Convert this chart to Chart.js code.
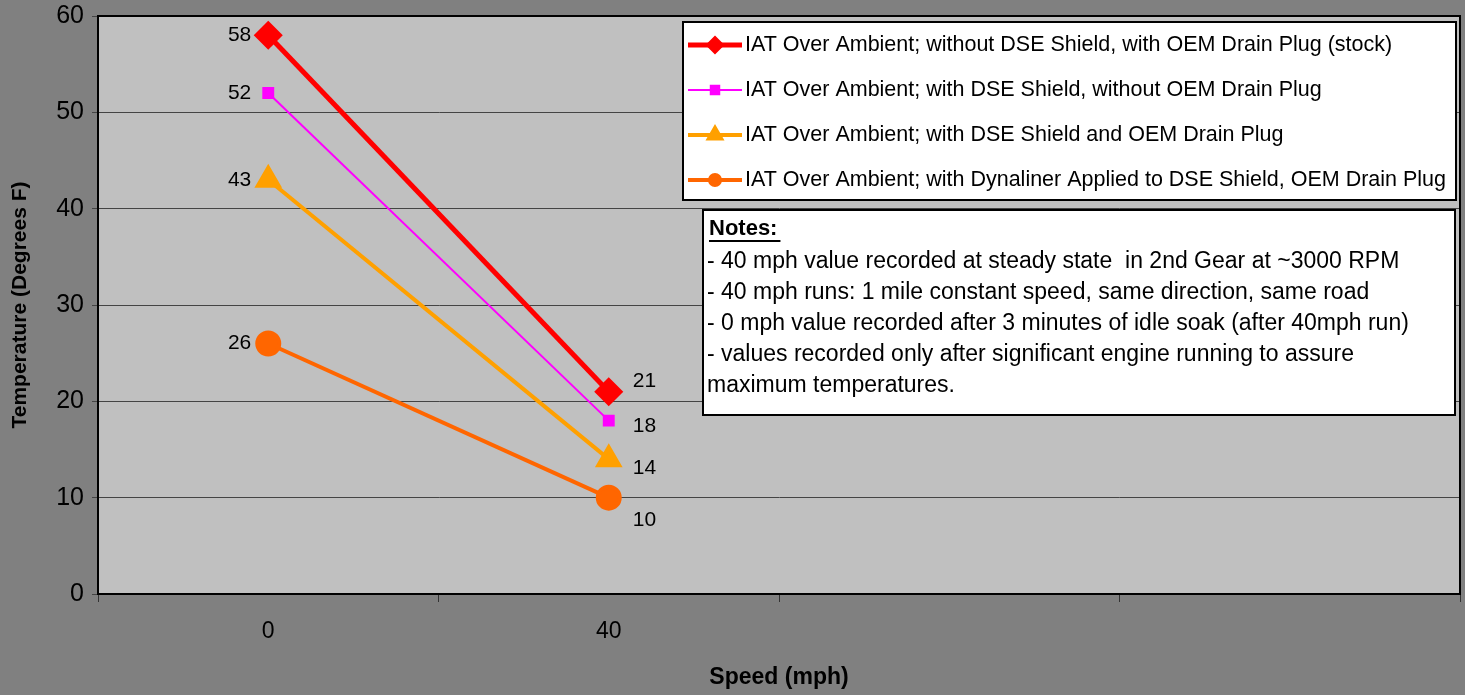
<!DOCTYPE html>
<html>
<head>
<meta charset="utf-8">
<script src="https://cdn.jsdelivr.net/npm/chart.js@4.4.0/dist/chart.umd.min.js"></script>
<style>
  html, body { margin: 0; padding: 0; background: #808080; }
  #wrap { width: 1465px; height: 695px; }
</style>
</head>
<body>
<div id="wrap"><canvas id="lineChart" width="1465" height="695"></canvas></div>
<script>
// data
var speeds = ['0', '40', '', ''];
var stockNoShield = [58, 21];
var shieldNoPlug = [52, 18];
var shieldWithPlug = [43, 14];
var dynaliner = [26, 10];
var seriesNames = [
  'IAT Over Ambient; without DSE Shield, with OEM Drain Plug (stock)',
  'IAT Over Ambient; with DSE Shield, without OEM Drain Plug',
  'IAT Over Ambient; with DSE Shield and OEM Drain Plug',
  'IAT Over Ambient; with Dynaliner Applied to DSE Shield, OEM Drain Plug'
];
var notesTitle = 'Notes:';
var notesLines = [
  '- 40 mph value recorded at steady state  in 2nd Gear at ~3000 RPM',
  '- 40 mph runs: 1 mile constant speed, same direction, same road',
  '- 0 mph value recorded after 3 minutes of idle soak (after 40mph run)',
  '- values recorded only after significant engine running to assure',
  'maximum temperatures.'
];
var yTicks = [0, 10, 20, 30, 40, 50, 60];

var FONT = '"Liberation Sans", Arial, sans-serif';

// label offsets for the 40 mph points (dy per series)
var rightLabelDy = [-10, 6, 9, 23];

var plotBg = {
  id: 'plotBg',
  beforeDraw: function(chart) {
    var a = chart.chartArea, ctx = chart.ctx;
    ctx.save();
    ctx.fillStyle = '#c0c0c0';
    ctx.fillRect(a.left, a.top, a.right - a.left, a.bottom - a.top);
    ctx.restore();
  },
  afterDatasetsDraw: function(chart) {
    var a = chart.chartArea, ctx = chart.ctx;
    ctx.save();
    ctx.strokeStyle = '#000';
    ctx.lineWidth = 2;
    ctx.strokeRect(a.left, a.top, a.right - a.left, a.bottom - a.top);
    ctx.restore();
  }
};

var pointLabels = {
  id: 'pointLabels',
  afterDatasetsDraw: function(chart) {
    var ctx = chart.ctx;
    ctx.save();
    ctx.font = '21px ' + FONT;
    ctx.fillStyle = '#000';
    ctx.textBaseline = 'middle';
    chart.data.datasets.forEach(function(ds, i) {
      var meta = chart.getDatasetMeta(i);
      meta.data.forEach(function(pt, j) {
        var v = ds.data[j];
        if (j === 0) {
          ctx.textAlign = 'right';
          ctx.fillText(v, pt.x - 17, pt.y);
        } else {
          ctx.textAlign = 'left';
          ctx.fillText(v, pt.x + 24, pt.y + rightLabelDy[i]);
        }
      });
    });
    ctx.restore();
  }
};

var boxes = {
  id: 'boxes',
  afterDraw: function(chart) {
    var ctx = chart.ctx;
    ctx.save();
    // legend box
    ctx.fillStyle = '#fff';
    ctx.fillRect(683, 22, 773, 178);
    ctx.strokeStyle = '#000';
    ctx.lineWidth = 2;
    ctx.strokeRect(683, 22, 773, 178);
    ctx.font = '21.5px ' + FONT;
    ctx.textBaseline = 'middle';
    ctx.textAlign = 'left';
    chart.data.datasets.forEach(function(ds, i) {
      var y = 45 + i * 45;
      ctx.strokeStyle = ds.borderColor;
      ctx.lineWidth = ds.borderWidth;
      ctx.beginPath();
      ctx.moveTo(688, y);
      ctx.lineTo(742, y);
      ctx.stroke();
      ctx.fillStyle = ds.backgroundColor;
      Chart.helpers.drawPoint(ctx, {
        pointStyle: ds.pointStyle, radius: ds.legendRadius, rotation: 0, borderWidth: 1
      }, 715, y);
      ctx.fillStyle = '#000';
      ctx.fillText(ds.label, 745, y);
    });
    // notes box
    ctx.fillStyle = '#fff';
    ctx.fillRect(703, 210, 752, 205);
    ctx.strokeStyle = '#000';
    ctx.lineWidth = 2;
    ctx.strokeRect(703, 210, 752, 205);
    ctx.fillStyle = '#000';
    ctx.font = 'bold 22px ' + FONT;
    ctx.fillText(notesTitle, 709, 229);
    var w = ctx.measureText(notesTitle).width;
    ctx.fillRect(709, 240, w + 3, 2);
    ctx.font = '23px ' + FONT;
    notesLines.forEach(function(t, k) {
      ctx.fillText(t, 707, 262 + k * 31);
    });
    ctx.restore();
  }
};

var ctxL = document.getElementById('lineChart').getContext('2d');
var myLineChart = new Chart(ctxL, {
  type: 'line',
  data: {
    labels: speeds,
    datasets: [{
      label: seriesNames[0],
      data: stockNoShield,
      borderColor: '#ff0000',
      backgroundColor: '#ff0000',
      borderWidth: 5,
      pointStyle: 'rectRot',
      pointRadius: 11,
      legendRadius: 6
    }, {
      label: seriesNames[1],
      data: shieldNoPlug,
      borderColor: '#ff00ff',
      backgroundColor: '#ff00ff',
      borderWidth: 2,
      pointStyle: 'rect',
      pointRadius: 7,
      legendRadius: 6
    }, {
      label: seriesNames[2],
      data: shieldWithPlug,
      borderColor: '#ffa000',
      backgroundColor: '#ffa000',
      borderWidth: 4,
      pointStyle: 'triangle',
      pointRadius: 12,
      legendRadius: 7
    }, {
      label: seriesNames[3],
      data: dynaliner,
      borderColor: '#ff6600',
      backgroundColor: '#ff6600',
      borderWidth: 4,
      pointStyle: 'circle',
      pointRadius: 11,
      legendRadius: 5
    }]
  },
  options: {
    responsive: false,
    animation: false,
    devicePixelRatio: 1,
    layout: { autoPadding: false, padding: { top: 16, right: 5, left: 4, bottom: 0 } },
    plugins: { legend: { display: false }, tooltip: { enabled: false } },
    elements: { line: { tension: 0 }, point: { borderWidth: 1 } },
    scales: {
      x: {
        offset: true,
        grid: {
          offset: true, drawOnChartArea: false, color: '#333', tickLength: 8
        },
        border: { color: '#000', width: 2 },
        ticks: { color: '#000', font: { family: FONT, size: 23 }, padding: 16, maxRotation: 0 },
        title: {
          display: true, text: 'Speed (mph)', color: '#000',
          font: { family: FONT, size: 23, weight: 'bold' }, padding: { top: 14 }
        },
        afterFit: function(s) {
          s.height = 101;
          s.paddingLeft = 0;
          s.paddingRight = 0;
        }
      },
      y: {
        min: 0, max: 60,
        afterBuildTicks: function(s) { s.ticks = yTicks.map(function(v) { return { value: v }; }); },
        grid: { color: '#444', lineWidth: 1, tickLength: 6 },
        border: { color: '#000', width: 2 },
        ticks: { color: '#000', font: { family: FONT, size: 25 }, padding: 8 },
        title: {
          display: true, text: 'Temperature (Degrees F)', color: '#000',
          font: { family: FONT, size: 21, weight: 'bold' }, padding: { bottom: 8 }
        },
        afterFit: function(s) {
          s.width = 94;
          s.paddingTop = 0;
          s.paddingBottom = 0;
        }
      }
    }
  },
  plugins: [plotBg, pointLabels, boxes]
});
</script>
</body>
</html>
